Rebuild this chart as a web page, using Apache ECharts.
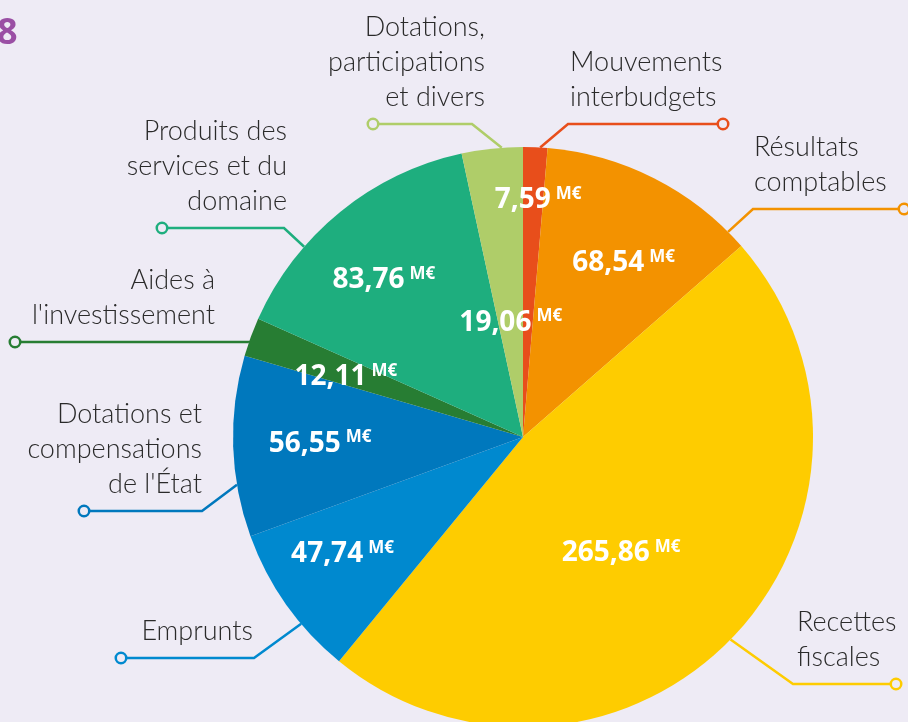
<!DOCTYPE html>
<html>
<head>
<meta charset="utf-8">
<script src="https://cdn.jsdelivr.net/npm/echarts@6/dist/echarts.min.js"></script>
<style>
  html, body { margin: 0; padding: 0; background: #eeebf5; }
  #chart { width: 908px; height: 722px; }
</style>
</head>
<body>
<div id="chart"></div>
<script>
// data
const categories = [
  'Mouvements\ninterbudgets',
  'Résultats\ncomptables',
  'Recettes\nfiscales',
  'Emprunts',
  'Dotations et\ncompensations\nde l\'État',
  'Aides à\nl\'investissement',
  'Produits des\nservices et du\ndomaine',
  'Dotations,\nparticipations\net divers'
]
const values = [7.59, 68.54, 265.86, 47.74, 56.55, 12.11, 83.76, 19.06]
const unit = 'M€'

// styles / layout
const colors = ['#e84e1b', '#f39200', '#fecc00', '#0089cf', '#0078bd', '#277d33', '#1eae7e', '#afcd69']
const bg = '#eeebf5'
const center = [523, 437]
const radius = 290
// leader lines: start angle on the rim, y of horizontal segment, elbow x, end x, text anchor
const leaders = [
  { angle: 3.4, lineY: 124, elbowX: 568, endX: 723, textX: 570, align: 'left' },
  { angle: 45, lineY: 209, elbowX: 753, endX: 904, textX: 754, align: 'left' },
  { angle: 134.3, lineY: 684, elbowX: 793, endX: 896, textX: 797, align: 'left' },
  { angle: 229.9, lineY: 658, elbowX: 254, endX: 121, textX: 253, align: 'right' },
  { angle: 260.5, lineY: 511, elbowX: 202, endX: 84, textX: 202, align: 'right' },
  { angle: 289, lineY: 342, elbowX: null, endX: 15, textX: 215, align: 'right' },
  { angle: 311, lineY: 228, elbowX: 284, endX: 162, textX: 287, align: 'right' },
  { angle: 355.8, lineY: 124, elbowX: 472, endX: 373, textX: 485, align: 'right' }
]
// value labels: [angle offset from mid angle, distance from centre]
const valuePos = [[1.2, 237], [3.2, 201], [5.7, 152], [2.4, 215], [0, 203], [-1.5, 187], [-2.4, 210], [0, 115]]

const total = values.reduce((a, b) => a + b, 0)
let acc = 0
const midAngles = values.map(v => {
  const m = (acc + v / 2) / total * 360
  acc += v
  return m
})

function polar (deg, r) {
  const a = deg * Math.PI / 180
  return [center[0] + r * Math.sin(a), center[1] - r * Math.cos(a)]
}

const fmt = v => v.toFixed(2).replace('.', ',')

const pieBase = {
  type: 'pie',
  center: center,
  radius: radius,
  startAngle: 90,
  clockwise: true,
  avoidLabelOverlap: false,
  silent: true,
  animation: false,
  emphasis: { disabled: true }
}

const chart = echarts.init(document.getElementById('chart'))
chart.setOption({
  backgroundColor: bg,
  title: {
    text: '8',
    left: -8,
    top: 11,
    textStyle: { color: '#9a4fa4', fontSize: 36, fontWeight: 'bold', fontFamily: 'Open Sans' }
  },
  series: [
    Object.assign({}, pieBase, {
      data: values.map((v, i) => ({ name: categories[i], value: v, itemStyle: { color: colors[i] } })),
      label: {
        position: 'inside',
        formatter: p => '{v|' + fmt(p.value) + '}{u|' + unit + '}',
        rich: {
          v: { fontSize: 28, fontWeight: 'bold', color: '#fff', fontFamily: 'Open Sans', lineHeight: 34 },
          u: { fontSize: 17, fontWeight: 'bold', color: '#fff', fontFamily: 'Open Sans', padding: [0, 0, 12, 5] }
        }
      },
      labelLine: { show: false },
      labelLayout: p => {
        const pos = valuePos[p.dataIndex]
        const pt = polar(midAngles[p.dataIndex] + pos[0], pos[1])
        return { x: pt[0], y: pt[1], align: 'center', verticalAlign: 'middle' }
      }
    }),
    Object.assign({}, pieBase, {
      data: values.map((v, i) => ({
        name: categories[i],
        value: v,
        itemStyle: { color: 'rgba(0,0,0,0)' },
        labelLine: { lineStyle: { color: colors[i] } }
      })),
      label: {
        position: 'outside',
        formatter: '{b}',
        fontSize: 27,
        lineHeight: 35,
        color: '#2a2a2a',
        fontFamily: 'Lato',
        fontWeight: 300
      },
      labelLine: { show: true, length: 20, length2: 20, lineStyle: { width: 2.5 } },
      labelLayout: p => {
        const l = leaders[p.dataIndex]
        const s = polar(l.angle, radius)
        const ex = l.elbowX == null ? s[0] : l.elbowX
        return {
          x: l.textX,
          y: l.lineY - 9,
          align: l.align,
          verticalAlign: 'bottom',
          labelLinePoints: [s, [ex, l.lineY], [l.endX, l.lineY]]
        }
      }
    }),
    Object.assign({}, pieBase, {
      data: values.map((v, i) => ({
        name: categories[i],
        value: v,
        itemStyle: { color: 'rgba(0,0,0,0)' },
        label: { borderColor: colors[i] }
      })),
      label: {
        position: 'outside',
        formatter: ' ',
        width: 8,
        height: 8,
        padding: 0,
        fontSize: 1,
        backgroundColor: bg,
        borderWidth: 2.5,
        borderRadius: 6
      },
      labelLine: { show: false },
      labelLayout: p => {
        const l = leaders[p.dataIndex]
        return { x: l.endX, y: l.lineY, align: 'center', verticalAlign: 'middle' }
      }
    })
  ]
})
window.addEventListener('resize', () => chart.resize())
</script>
</body>
</html>
